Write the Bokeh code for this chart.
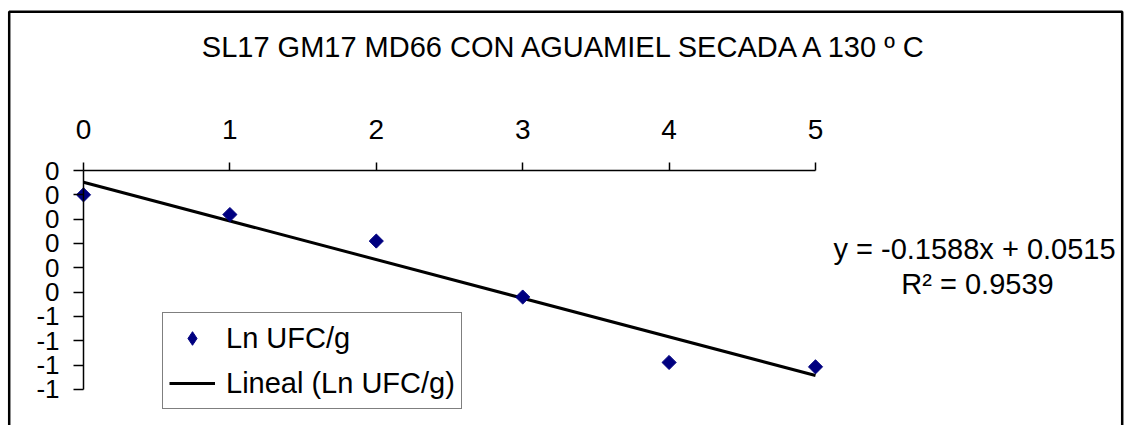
import numpy as np
from bokeh.plotting import figure
from bokeh.models import (Range1d, FixedTicker, CustomJSTickFormatter, Legend, LegendItem,
                          Label, BoxAnnotation, ColumnDataSource)
from bokeh.embed import file_html
from bokeh.resources import INLINE

# ---- data ----
title_text = "SL17 GM17 MD66 CON AGUAMIEL SECADA A 130 º C"
x_vals = [0, 1, 2, 3, 4, 5]
ln_ufc = [0.0, -0.081, -0.19, -0.42, -0.689, -0.707]
slope = -0.1588
intercept = 0.0515
r2 = 0.9539
x_ticks = [0, 1, 2, 3, 4, 5]
y_ticks = [0.1, 0.0, -0.1, -0.2, -0.3, -0.4, -0.5, -0.6, -0.7, -0.8]
y_tick_labels = ["0", "0", "0", "0", "0", "0", "-1", "-1", "-1", "-1"]
series_name = "Ln UFC/g"
trend_name = "Lineal (Ln UFC/g)"

FONT = "Liberation Sans"
TXT = "29px"
W, H = 1126, 425
# pixel geometry (canvas coords); the frame fills the whole canvas
px_per_x = 146.4
px_per_y = 243.3
x0_px = 83.0      # canvas x of data x=0
ytop_px = 170.0   # canvas y of data y=0.1

x_start = -x0_px / px_per_x
x_end = x_start + W / px_per_x
y_end = 0.1 + ytop_px / px_per_y
y_start = 0.1 - (H - ytop_px) / px_per_y

def dx(px):
    return (px - x0_px) / px_per_x

def dy(py):
    return 0.1 - (py - ytop_px) / px_per_y

p = figure(width=W, height=H, output_backend="svg", toolbar_location=None,
           x_range=Range1d(x_start, x_end), y_range=Range1d(y_start, y_end),
           x_axis_location="above", y_axis_location="left", min_border=0)
p.outline_line_color = None
p.xgrid.visible = False
p.ygrid.visible = False
p.background_fill_color = "white"
p.border_fill_color = "white"

# axes
xa = p.xaxis[0]
xa.fixed_location = 0.1
xa.bounds = (0, 5)
xa.ticker = FixedTicker(ticks=x_ticks)
xa.minor_tick_line_color = None
xa.major_tick_in = 0
xa.major_tick_out = 8
xa.axis_line_width = 1.5
xa.major_tick_line_width = 1.5
xa.major_label_text_font = FONT
xa.major_label_text_font_size = "28px"
xa.major_label_text_color = "black"
xa.major_label_standoff = 24

ya = p.yaxis[0]
ya.fixed_location = 0
ya.bounds = (-0.8, 0.1)
ya.ticker = FixedTicker(ticks=y_ticks)
ya.formatter = CustomJSTickFormatter(args=dict(tvals=y_ticks, tlabels=y_tick_labels), code="""
let best = 0, bd = 1e9;
for (let i = 0; i < tvals.length; i++) {
  const d = Math.abs(tvals[i] - tick);
  if (d < bd) { bd = d; best = i; }
}
return tlabels[best];
""")
ya.minor_tick_line_color = None
ya.major_tick_in = 0
ya.major_tick_out = 10
ya.axis_line_width = 1.5
ya.major_tick_line_width = 1.5
ya.major_label_text_font = FONT
ya.major_label_text_font_size = "26px"
ya.major_label_text_color = "black"
ya.major_label_standoff = 14

# trend line
tx = [min(x_vals), max(x_vals)]
ty = [intercept + slope * v for v in tx]
line_r = p.line(tx, ty, line_color="black", line_width=3)

src = ColumnDataSource(dict(x=x_vals, y=ln_ufc))
# diamond marker (used for the legend symbol), drawn beneath the rotated squares
leg_r = p.scatter("x", "y", source=src, marker="diamond", size=11,
                  fill_color="#000080", line_color="#000080")
sc_r = p.scatter("x", "y", source=src, marker="square", angle=np.pi / 4, size=10,
                 fill_color="#000080", line_color="#000080")

legend = Legend(items=[LegendItem(label=series_name, renderers=[leg_r]),
                       LegendItem(label=trend_name, renderers=[line_r])],
                location=(162, 16), orientation="vertical",
                padding=6, spacing=7, margin=0,
                label_height=38, glyph_height=34, glyph_width=46, label_standoff=11,
                label_text_font=FONT, label_text_font_size=TXT, label_text_color="black",
                border_line_color="black", border_line_width=1.5,
                background_fill_color="white", background_fill_alpha=1)
p.add_layout(legend, "center")

# title
p.add_layout(Label(x=dx(566), y=dy(46), text=title_text, text_align="center",
                   text_baseline="middle", text_font=FONT, text_font_size=TXT,
                   text_color="black"))
# equation
p.add_layout(Label(x=dx(974), y=dy(248), text="y = %.4fx + %.4f" % (slope, intercept),
                   text_align="center", text_baseline="middle", text_font=FONT,
                   text_font_size=TXT, text_color="black"))
p.add_layout(Label(x=dx(977), y=dy(283), text="R² = %.4f" % r2,
                   text_align="center", text_baseline="middle", text_font=FONT,
                   text_font_size=TXT, text_color="black"))

# outer chart border
p.add_layout(BoxAnnotation(left=dx(8.7), right=dx(1121.7), top=dy(11.3), bottom=dy(520),
                           fill_alpha=0, line_color="black", line_alpha=1, line_width=2.5,
                           level="overlay"))

open("out.html", "w").write(file_html(p, INLINE))
